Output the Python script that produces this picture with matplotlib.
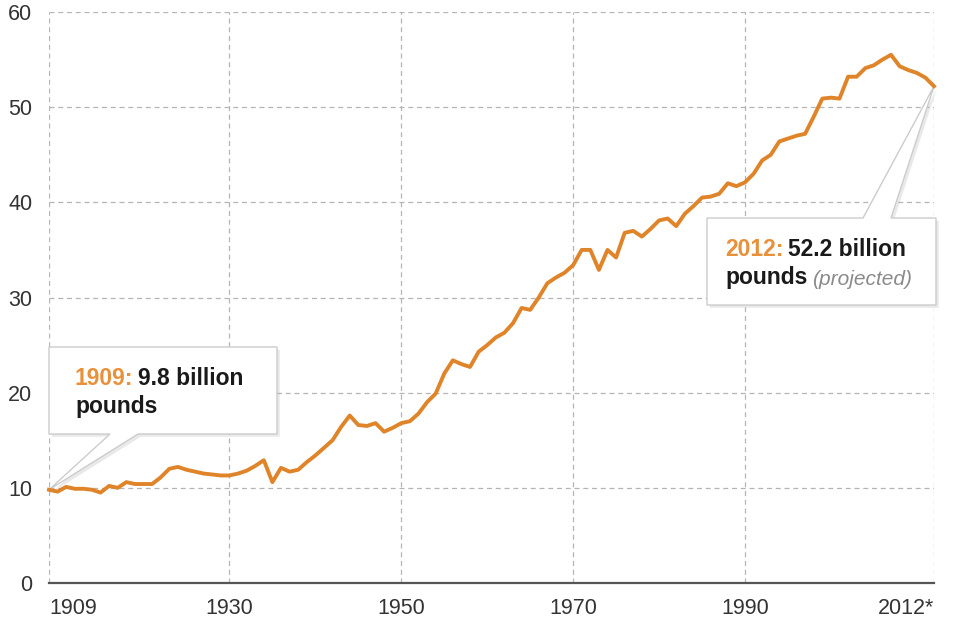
import matplotlib
matplotlib.use('Agg')
from matplotlib import pyplot as plt
from matplotlib import font_manager
from matplotlib.patches import Polygon
import matplotlib.patheffects as pe
import numpy as np

# data (billion pounds, one value per year 1909-2012)
vals_1909_1919 = [9.8, 9.6, 10.1, 9.9, 9.9, 9.8, 9.5, 10.2, 10.0, 10.6, 10.4]
vals_1920s = [10.4, 10.4, 11.1, 12.0, 12.2, 11.9, 11.7, 11.5, 11.4, 11.3]
vals_1930s = [11.3, 11.5, 11.8, 12.3, 12.9, 10.6, 12.1, 11.7, 11.9, 12.7]
vals_1940s = [13.4, 14.2, 15.0, 16.4, 17.6, 16.6, 16.5, 16.8, 15.9, 16.3]
vals_1950s = [16.8, 17.0, 17.8, 19.0, 19.9, 22.0, 23.4, 23.0, 22.7, 24.3]
vals_1960s = [25.0, 25.8, 26.3, 27.3, 28.9, 28.7, 30.0, 31.5, 32.1, 32.6]
vals_1970s = [33.4, 35.0, 35.0, 32.9, 35.0, 34.2, 36.8, 37.0, 36.4, 37.2]
vals_1980s = [38.1, 38.3, 37.5, 38.8, 39.6, 40.5, 40.6, 40.9, 42.0, 41.7]
vals_1990s = [42.1, 43.0, 44.4, 45.0, 46.4, 46.7, 47.0, 47.2, 49.0, 50.9]
vals_2000s = [51.0, 50.9, 53.2, 53.2, 54.1, 54.4, 55.0, 55.5, 54.3, 53.9]
vals_2010s = [53.6, 53.1, 52.2]

values = (vals_1909_1919 + vals_1920s + vals_1930s + vals_1940s + vals_1950s
          + vals_1960s + vals_1970s + vals_1980s + vals_1990s + vals_2000s
          + vals_2010s)
years = np.arange(1909, 1909 + len(values))

x_ticks = [1909, 1930, 1950, 1970, 1990, 2012]
x_labels = ['1909', '1930', '1950', '1970', '1990', '2012*']
y_ticks = [0, 10, 20, 30, 40, 50, 60]

# fonts
names = {f.name for f in font_manager.fontManager.ttflist}
narrow = 'Liberation Sans Narrow' if 'Liberation Sans Narrow' in names else 'Liberation Sans'
plt.rcParams['font.family'] = [narrow, 'DejaVu Sans']

orange = '#e0842a'
label_orange = '#e8913a'
grid_col = '#b5b5b5'
text_col = '#333333'

fig = plt.figure(figsize=(9.66, 6.29), dpi=100)
ax = fig.add_axes([49 / 966, 46 / 629, 885 / 966, 571 / 629])

ax.plot(years, values, color=orange, lw=2.8, solid_joinstyle='round', zorder=5, clip_on=False)

ax.set_xlim(1909, 2012)
ax.set_ylim(0, 60)
ax.set_xticks(x_ticks)
ax.set_xticklabels(x_labels)
ax.set_yticks(y_ticks)
ax.tick_params(axis='both', length=0, labelsize=15.5, colors=text_col)
ax.tick_params(axis='y', pad=12)
ax.tick_params(axis='x', pad=11)
xl = ax.get_xticklabels()
xl[0].set_ha('left')
xl[-1].set_ha('right')

ax.grid(True, color=grid_col, lw=0.9, linestyle=(0, (4, 3)), zorder=1)
for s in ['top', 'right', 'left']:
    ax.spines[s].set_visible(False)
ax.spines['bottom'].set_color('#555555')
ax.spines['bottom'].set_linewidth(1.6)
ax.spines['bottom'].set_zorder(4)
ax.set_axisbelow(True)


def to_axes(x, y):
    return ax.transAxes.inverted().transform(ax.transData.transform((x, y)))


def px(x, y):
    # figure pixel position -> axes fraction
    return ((x - 49) / 885, (583 - y) / 571)


shadow = [pe.withSimplePatchShadow(offset=(2, -2), shadow_rgbFace='#aaaaaa', alpha=0.25)]

# callout 1909
tip1 = to_axes(years[0], values[0])
bl = px(49, 434)
tr = px(277, 347)
verts1 = [bl, (bl[0], tr[1]), tr, (tr[0], bl[1]), (px(138, 434)[0], bl[1]), tip1,
          (px(110, 434)[0], bl[1])]
ax.add_patch(Polygon(verts1, closed=True, transform=ax.transAxes, facecolor='white',
                     edgecolor='#cccccc', lw=1, zorder=3, clip_on=False, path_effects=shadow))

# callout 2012
tip2 = to_axes(years[-1], values[-1])
bl = px(707, 305)
tr = px(936, 218)
verts2 = [bl, (bl[0], tr[1]), (px(863, 218)[0], tr[1]), tip2, (px(891, 218)[0], tr[1]),
          tr, (tr[0], bl[1])]
ax.add_patch(Polygon(verts2, closed=True, transform=ax.transAxes, facecolor='white',
                     edgecolor='#cccccc', lw=1, zorder=3, clip_on=False, path_effects=shadow))

fs = 16.5
t1 = ax.text(*px(75, 385), '1909:', transform=ax.transAxes, color=label_orange,
             fontsize=fs, fontweight='bold', va='baseline', zorder=6)
ax.annotate('9.8 billion', xy=(1, 0), xycoords=t1, xytext=(3, 0), textcoords='offset points',
            color='#1a1a1a', fontsize=fs, fontweight='bold', va='bottom', zorder=6)
ax.text(*px(75, 413), 'pounds', transform=ax.transAxes, color='#1a1a1a',
        fontsize=fs, fontweight='bold', va='baseline', zorder=6)

t2 = ax.text(*px(725, 256), '2012:', transform=ax.transAxes, color=label_orange,
             fontsize=fs, fontweight='bold', va='baseline', zorder=6)
ax.annotate('52.2 billion', xy=(1, 0), xycoords=t2, xytext=(3, 0), textcoords='offset points',
            color='#1a1a1a', fontsize=fs, fontweight='bold', va='bottom', zorder=6)
t3 = ax.text(*px(725, 284), 'pounds', transform=ax.transAxes, color='#1a1a1a',
             fontsize=fs, fontweight='bold', va='baseline', zorder=6)
ax.annotate('(projected)', xy=(1, 0), xycoords=t3, xytext=(3, 0), textcoords='offset points',
            color='#8a8a8a', fontsize=fs - 1.5, fontstyle='italic', va='bottom', zorder=6)

fig.savefig('out.png', dpi=100)
